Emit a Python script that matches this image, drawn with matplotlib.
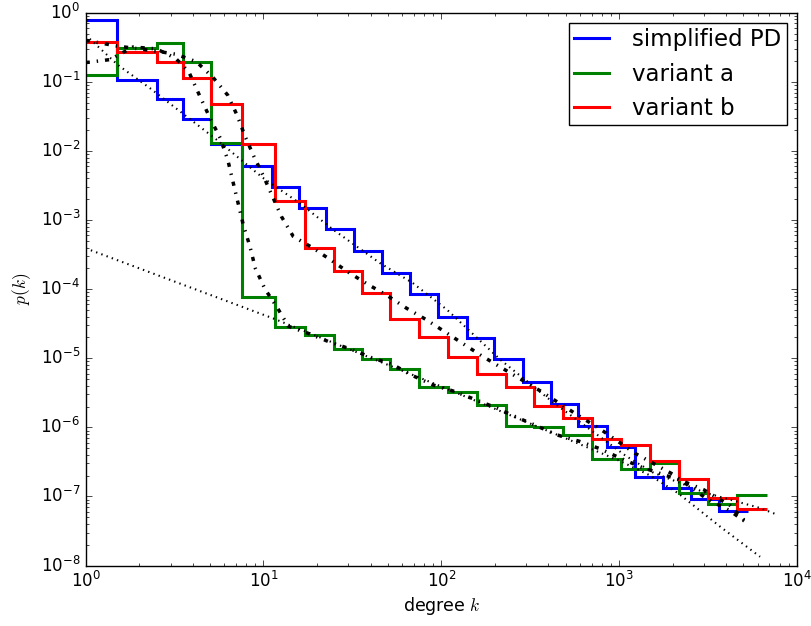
import matplotlib
matplotlib.use("Agg")
import matplotlib.pyplot as plt

plt.style.use('classic')
plt.rcParams['figure.facecolor'] = 'white'
plt.rcParams['savefig.facecolor'] = 'white'
plt.rcParams['mathtext.fontset'] = 'cm'

# ---- step-histogram data (bin edges and p(k) per bin) ----
pd_edges = [1, 1.51, 2.51, 3.54, 5.05, 7.54, 11.1, 15.8, 22.5, 32.3, 46.6, 66.7, 96.2,
            139, 199, 287, 412, 590, 851, 1228, 1758, 2537, 3647, 5308]
pd_p = [0.78, 0.106, 0.0558, 0.0286, 0.0126, 6.1e-3, 2.97e-3, 1.48e-3, 7.4e-4, 3.6e-4,
        1.73e-4, 8.5e-5, 3.9e-5, 1.94e-5, 9.6e-6, 4.5e-6, 2.15e-6, 1.05e-6, 5.2e-7,
        1.89e-7, 1.31e-7, 9.1e-8, 6.15e-8]

ab_edges = [1, 1.51, 2.51, 3.54, 5.05, 7.54, 11.6, 17.2, 24.9, 35.8, 51.5, 74.6, 108.7,
            157.8, 231, 333, 486, 704, 1021, 1493, 2181, 3147, 4585, 6788]
va_p = [0.125, 0.305, 0.368, 0.191, 0.0131, 7.8e-5, 2.86e-5, 2.17e-5, 1.35e-5, 9.6e-6,
        7.1e-6, 3.87e-6, 3.28e-6, 2.1e-6, 1.05e-6, 1.02e-6, 7.7e-7, 3.45e-7, 2.47e-7,
        3.0e-7, 1.13e-7, 7.8e-8, 1.05e-7]
vb_p = [0.373, 0.273, 0.191, 0.115, 0.0477, 0.0126, 1.88e-3, 3.97e-4, 1.83e-4, 8.9e-5,
        3.7e-5, 2.0e-5, 1.05e-5, 5.9e-6, 3.79e-6, 2.03e-6, 1.35e-6, 6.7e-7, 5.5e-7,
        3.25e-7, 1.77e-7, 9.4e-8, 6.5e-8]

labels = ['simplified PD', 'variant a', 'variant b']
colors = ['b', 'g', 'r']

# ---- black theory curves ----
t1_k = [1, 11.4, 100, 1000, 1500, 2150, 3700, 6200]
t1_p = [3.9e-4, 3.75e-5, 3.9e-6, 3.3e-7, 2.0e-7, 1.11e-7, 3.65e-8, 1.34e-8]

t2_k = [1, 1.52, 2.3, 5.46, 9.9, 16, 24.6, 45, 69, 108, 214, 425, 780, 1100, 1560, 3090, 6200, 7800]
t2_p = [0.475, 0.175, 0.081, 0.0145, 4.1e-3, 1.75e-3, 7.3e-4, 2.4e-4, 1.23e-4, 5.0e-5,
        9.6e-6, 2.3e-6, 7.3e-7, 3.8e-7, 2.2e-7, 1.12e-7, 6.8e-8, 5.4e-8]

a_k = [1, 1.5, 2, 2.7, 3.25, 4.2, 5.2, 6.3, 7.1, 7.9, 8.8, 10, 12.6, 14.7, 19.1, 24.1, 30.6,
       38.9, 49.2, 63.7, 82.5, 105, 168, 214, 358, 585, 780, 1230, 2000, 3100, 4200, 5320]
a_p = [0.40, 0.33, 0.30, 0.27, 0.25, 0.195, 0.116, 0.064, 0.033, 0.016, 8.5e-3, 4.3e-3,
       1.13e-3, 5.8e-4, 3.9e-4, 2.6e-4, 1.7e-4, 1.16e-4, 8.2e-5, 5.3e-5, 3.6e-5, 2.4e-5,
       1.09e-5, 7.5e-6, 3.4e-6, 1.5e-6, 9.5e-7, 4.2e-7, 2.1e-7, 9.3e-8, 6.2e-8, 4.0e-8]

b_k = [1, 1.37, 1.85, 2.5, 3.2, 3.8, 4.4, 5.0, 5.7, 6.3, 6.75, 7.7, 8.4, 9.0, 10.2, 11.9,
       13.8, 17.8, 23.1, 31.3, 40.5, 53.8, 68, 90, 119, 205, 265, 344, 445, 595, 780, 1010,
       1310, 2300, 2990, 4230, 5150]
b_p = [0.19, 0.21, 0.32, 0.30, 0.22, 0.14, 0.061, 0.03, 0.0155, 7.4e-3, 3.5e-3, 8.5e-4,
       4.1e-4, 2.0e-4, 1.0e-4, 5.5e-5, 2.9e-5, 2.3e-5, 1.75e-5, 1.34e-5, 1.02e-5, 8.0e-6,
       5.7e-6, 4.1e-6, 3.3e-6, 1.9e-6, 1.4e-6, 1.05e-6, 7.8e-7, 6.3e-7, 4.9e-7, 3.6e-7,
       2.7e-7, 1.65e-7, 1.25e-7, 7.3e-8, 4.3e-8]

fig = plt.figure(figsize=(8.12, 6.26), dpi=100)
ax = fig.add_axes([0.1055, 0.0966, 0.876, 0.883])

series = [(pd_edges, pd_p), (ab_edges, va_p), (ab_edges, vb_p)]
for (edges, vals), lab, col in zip(series, labels, colors):
    ax.stairs(vals, edges, baseline=None, color=col, linewidth=2.2, label=lab)

ax.plot(t1_k, t1_p, color='k', linestyle=':', linewidth=1.5)
ax.plot(t2_k, t2_p, color='k', linestyle=':', linewidth=1.5)
ax.plot(a_k, a_p, color='k', linestyle='-.', linewidth=2.5)
ax.plot(b_k, b_p, color='k', linestyle='-.', linewidth=2.5)

ax.set_xscale('log')
ax.set_yscale('log')
ax.set_xlim(1, 1e4)
ax.set_ylim(1e-8, 1)
ax.set_xlabel('degree $k$', fontsize=12.5, labelpad=3)
ax.set_ylabel('$p(k)$', fontsize=12.5)
ax.tick_params(labelsize=12)

leg = ax.legend(loc='upper right', fontsize=16.5, frameon=True, fancybox=False,
                handlelength=1.55, handletextpad=1.0, borderaxespad=0.45,
                borderpad=0.22)
leg.get_frame().set_edgecolor('k')

fig.savefig('out.png', dpi=100)
